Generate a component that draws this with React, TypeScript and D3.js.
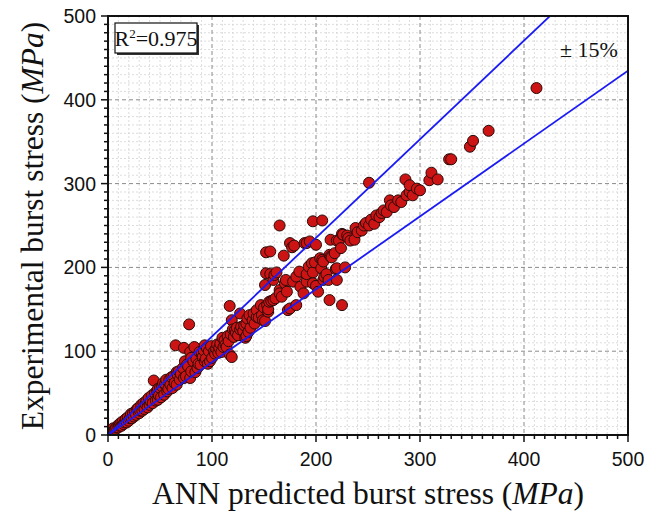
import React from 'react';
import * as d3 from 'd3';

// ANN predicted burst stress (MPa)
const predicted = [
  2, 3, 5, 6, 7, 8, 10, 10, 11, 12, 13, 14, 15, 16, 17, 18, 19, 20, 21, 22, 23, 24, 25, 26, 27, 28, 29, 30, 31, 32, 33, 34, 35, 36, 37, 38, 39, 40, 41, 42, 43, 44, 45, 46, 47, 48, 48, 49, 50, 51,
  52, 53, 54, 55, 56, 57, 58, 59, 60, 61, 62, 63, 64, 65, 66, 66, 67, 68, 69, 70, 72, 73, 73, 74, 75, 76, 77, 78, 79, 79, 80, 80, 82, 83, 84, 85, 86, 87, 88, 89, 90, 91, 92, 93, 93, 94, 95, 96, 97, 98, 99, 100,
  102, 103, 104, 105, 106, 107, 108, 109, 110, 111, 112, 113, 114, 115, 116, 117, 117, 118, 119, 119, 120, 121, 122, 123, 124, 125, 127, 127, 128, 130, 131, 132, 133, 133, 134, 135, 136, 137, 139, 140, 141, 143, 143, 145, 147, 148, 149, 150, 151, 151, 152, 152, 153, 154, 154, 155, 156, 156, 157, 159, 159, 160, 161,
  162, 165, 165, 165, 167, 169, 170, 171, 172, 173, 175, 175, 177, 178, 179, 181, 181, 184, 185, 188, 189, 191, 191, 191, 193, 194, 196, 197, 197, 197, 199, 200, 200, 202, 204, 205, 206, 206, 207, 207, 208, 210, 212, 213, 213, 214, 214, 215, 218, 219, 220, 220, 220, 222, 224, 225, 225, 226, 228, 230, 231, 233,
  237, 238, 240, 244, 246, 248, 251, 251, 253, 256, 258, 261, 263, 265, 268, 271, 272, 275, 279, 282, 286, 287, 290, 290, 293, 297, 300,
  309, 311, 317, 328, 330, 348, 351, 366, 412,
];

// Experimental burst stress (MPa)
const experimental = [
  5, 3, 8, 5, 7, 9, 12, 9, 11, 14, 11, 16, 13, 15, 19, 15, 21, 17, 20, 25, 20, 26, 22, 28, 24, 31, 32, 26, 29, 36, 29, 38, 31, 37, 41, 33, 44, 36, 40, 47, 38, 65, 50, 41, 52, 42, 55, 47, 56, 45,
  58, 62, 48, 61, 66, 52, 55, 66, 60, 69, 56, 70, 62, 107, 75, 60, 72, 76, 66, 73, 80, 68, 104, 88, 70, 84, 82, 132, 68, 99, 92, 76, 88, 105, 75, 91, 80, 85, 99, 84, 98, 93, 101, 107, 88, 91, 104, 85, 100, 88, 106, 92,
  100, 97, 103, 108, 98, 104, 109, 99, 116, 105, 113, 108, 105, 118, 112, 96, 154, 120, 93, 137, 126, 117, 125, 122, 128, 119, 126, 145, 129, 124, 131, 116, 133, 118, 139, 123, 143, 128, 137, 145, 133, 141, 149, 140, 155, 143, 137, 152, 136, 179, 193, 218, 155, 147, 150, 159, 192, 219, 160, 161, 185, 191, 163,
  194, 173, 169, 250, 165, 214, 181, 185, 171, 149, 151, 229, 224, 183, 226, 155, 189, 195, 177, 169, 229, 183, 192, 229, 201, 231, 205, 194, 181, 255, 206, 178, 227, 171, 211, 199, 209, 256, 185, 207, 189, 192, 185, 161, 215, 213, 233, 212, 217, 198, 185, 199, 232, 232, 223, 155, 240, 239, 200, 238, 235, 232,
  233, 247, 242, 244, 250, 253, 250, 301, 257, 252, 262, 260, 265, 268, 266, 280, 274, 272, 280, 278, 305, 286, 290, 298, 286, 294, 292,
  304, 313, 305, 329, 329, 344, 351, 363, 414,
];

const xTicks = [0, 100, 200, 300, 400, 500];
const yTicks = [0, 100, 200, 300, 400, 500];
const bandRatios = [1 / 0.85, 1 / 1.15];
const r2Label = '0.975';
const bandLabel = '± 15%';

export default function App() {
  const W = 659;
  const H = 513;
  const left = 108, right = 628, top = 16, bottom = 435;
  const x = d3.scaleLinear().domain([0, 500]).range([left, right]);
  const y = d3.scaleLinear().domain([0, 500]).range([bottom, top]);
  const minor = d3.range(0, 501, 10);
  const serif = '"Liberation Serif", "Times New Roman", serif';
  const sans = '"Liberation Sans", Arial, sans-serif';
  const line = d3.line<[number, number]>().x(d => x(d[0])).y(d => y(d[1]));
  const pts = predicted.map((p, i) => [p, experimental[i]] as [number, number]);

  return (
    <svg width={W} height={H} style={{ position: 'absolute', left: 0, top: 0, background: '#fff' }}>
      <defs>
        <clipPath id="plotClip">
          <rect x={left} y={top} width={right - left} height={bottom - top} />
        </clipPath>
      </defs>
      <rect x={0} y={0} width={W} height={H} fill="#fff" />
      {/* minor grid */}
      <g stroke="#d4d4d4" strokeWidth={0.8} strokeDasharray="2,2">
        {minor.filter(v => v % 100 !== 0).map(v => (
          <line key={'mx' + v} x1={x(v)} x2={x(v)} y1={top} y2={bottom} />
        ))}
        {minor.filter(v => v % 100 !== 0).map(v => (
          <line key={'my' + v} y1={y(v)} y2={y(v)} x1={left} x2={right} />
        ))}
      </g>
      {/* major grid */}
      <g stroke="#8a8a8a" strokeWidth={1} strokeDasharray="4,3">
        {xTicks.slice(1, -1).map(v => (
          <line key={'gx' + v} x1={x(v)} x2={x(v)} y1={top} y2={bottom} />
        ))}
        {yTicks.slice(1, -1).map(v => (
          <line key={'gy' + v} y1={y(v)} y2={y(v)} x1={left} x2={right} />
        ))}
      </g>
      {/* points */}
      <g clipPath="url(#plotClip)">
        {pts.map((d, i) => (
          <circle key={i} cx={x(d[0])} cy={y(d[1])} r={5.5} fill="#cc1414" stroke="#2a0a0a" strokeWidth={1} />
        ))}
      </g>
      {/* ±15% lines */}
      <g clipPath="url(#plotClip)" fill="none" stroke="#1a1af5" strokeWidth={1.8}>
        {bandRatios.map((k, i) => (
          <path key={i} d={line([[0, 0], [500, 500 * k]]) || ''} />
        ))}
      </g>
      {/* frame */}
      <rect x={left} y={top} width={right - left} height={bottom - top} fill="none" stroke="#111" strokeWidth={2} />
      {/* axis ticks */}
      <g stroke="#111" strokeWidth={1.5}>
        {minor.map(v => (
          <line key={'tx' + v} x1={x(v)} x2={x(v)} y1={bottom} y2={bottom + (v % 100 === 0 ? 7 : 4)} />
        ))}
        {minor.map(v => (
          <line key={'ty' + v} y1={y(v)} y2={y(v)} x1={left} x2={left - (v % 100 === 0 ? 7 : 4)} />
        ))}
      </g>
      <g fontFamily={sans} fontSize={19.5} fill="#111">
        {xTicks.map(v => (
          <text key={'lx' + v} x={x(v)} y={bottom + 31} textAnchor="middle">{v}</text>
        ))}
        {yTicks.map(v => (
          <text key={'ly' + v} x={left - 12} y={y(v) + 7} textAnchor="end">{v}</text>
        ))}
      </g>
      {/* axis titles */}
      <text x={368} y={504} textAnchor="middle" fontFamily={serif} fontSize={31.5} fill="#111">
        ANN predicted burst stress (<tspan fontStyle="italic">MPa</tspan>)
      </text>
      <text transform={`translate(43, 226) rotate(-90)`} textAnchor="middle" fontFamily={serif} fontSize={31.5} fill="#111">
        Experimental burst stress (<tspan fontStyle="italic">MPa</tspan>)
      </text>
      {/* R2 box */}
      <rect x={117} y={25} width={82} height={30} fill="#333" />
      <rect x={115} y={23} width={82} height={30} fill="#fff" stroke="#111" strokeWidth={1.2} />
      <text x={156} y={46} textAnchor="middle" fontFamily={serif} fontSize={22} fill="#111">
        R<tspan fontSize={13} dy={-8}>2</tspan><tspan dy={8}>={r2Label}</tspan>
      </text>
      <text x={589} y={57} textAnchor="middle" fontFamily={serif} fontSize={22} fill="#111">{bandLabel}</text>
    </svg>
  );
}
